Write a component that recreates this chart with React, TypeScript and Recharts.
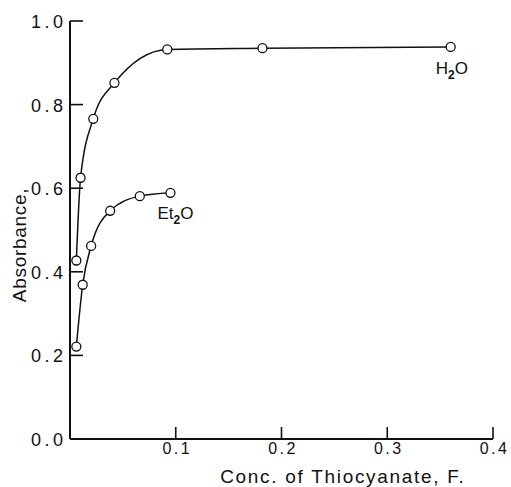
import React from 'react';
import { LineChart, Line, XAxis, YAxis, ReferenceDot } from 'recharts';

// Conc. of thiocyanate (F) vs absorbance
const h2oConc = [0.006, 0.01, 0.022, 0.042, 0.092, 0.182, 0.36];
const h2oAbs = [0.427, 0.625, 0.766, 0.852, 0.932, 0.935, 0.938];
const et2oConc = [0.006, 0.012, 0.02, 0.038, 0.066, 0.095];
const et2oAbs = [0.221, 0.369, 0.462, 0.546, 0.581, 0.589];
const xTicks = [0.1, 0.2, 0.3, 0.4];
const yTicks = [0, 0.2, 0.4, 0.6, 0.8, 1.0];

const h2oData = h2oConc.map((x, i) => ({ x, y: h2oAbs[i] }));
const et2oData = et2oConc.map((x, i) => ({ x, y: et2oAbs[i] }));

const FONT = '"Liberation Sans", Arial, sans-serif';
const INK = '#111';
const Y_MARGIN = 7;
const X_MARGIN = 4;

function YTick({ x, y, payload }: any) {
  const axisX = x + Y_MARGIN;
  return (
    <g>
      {payload.value > 0 && (
        <line x1={axisX} x2={axisX + 13} y1={y} y2={y} stroke={INK} strokeWidth={1.6} />
      )}
      <text x={x} y={y + 7} dx={3.5} textAnchor="end" fontSize={18} letterSpacing={3.5} fontFamily={FONT} fill={INK}>
        {payload.value.toFixed(1)}
      </text>
    </g>
  );
}

function XTick({ x, y, payload }: any) {
  const axisY = y - X_MARGIN;
  return (
    <g>
      <line x1={x} x2={x} y1={axisY} y2={axisY - 12} stroke={INK} strokeWidth={1.6} />
      <text x={x} y={axisY + 15} dx={1.5} textAnchor="middle" fontSize={16} letterSpacing={2.5} fontFamily={FONT} fill={INK}>
        {payload.value.toFixed(1)}
      </text>
    </g>
  );
}

function Tag({ cx, cy, dx, dy, head }: any) {
  return (
    <text x={cx + dx} y={cy + dy} fontSize={17} fontFamily={FONT} fill={INK}>
      {head}
      <tspan dy={5} fontSize={12} fontWeight="bold">2</tspan>
      <tspan dy={-5}>O</tspan>
    </text>
  );
}

const dotStyle = { r: 4.5, fill: '#fff', stroke: INK, strokeWidth: 1.3 };

export default function App() {
  const hLast = h2oConc.length - 1;
  const eLast = et2oConc.length - 1;
  return (
    <div style={{ position: 'fixed', left: 0, top: 0, background: '#fff' }}>
      <LineChart width={511} height={487} margin={{ top: 21, right: 18, bottom: 0, left: 0 }}>
        <XAxis
          type="number"
          dataKey="x"
          domain={[0, 0.4]}
          ticks={xTicks}
          height={48}
          tickSize={0}
          tickMargin={X_MARGIN}
          tickLine={false}
          tick={<XTick />}
          axisLine={{ stroke: INK, strokeWidth: 2 }}
          label={{
            content: ({ viewBox }: any) => (
              <text
                x={viewBox.x + viewBox.width * 0.645}
                y={viewBox.y + 44}
                textAnchor="middle"
                fontSize={19}
                letterSpacing={1.7}
                fontFamily={FONT}
                fill={INK}
              >
                Conc. of Thiocyanate, F.
              </text>
            ),
          }}
        />
        <YAxis
          type="number"
          dataKey="y"
          domain={[0, 1]}
          ticks={yTicks}
          width={70}
          tickSize={0}
          tickMargin={Y_MARGIN}
          tickLine={false}
          tick={<YTick />}
          axisLine={{ stroke: INK, strokeWidth: 2 }}
          label={{
            content: () => (
              <text
                x={26}
                y={245}
                textAnchor="middle"
                transform="rotate(-90, 26, 245)"
                fontSize={19}
                letterSpacing={0.7}
                fontFamily={FONT}
                fill={INK}
              >
                Absorbance,
              </text>
            ),
          }}
        />
        <Line
          data={h2oData}
          dataKey="y"
          type="monotone"
          stroke={INK}
          strokeWidth={1.5}
          dot={dotStyle}
          activeDot={false}
          isAnimationActive={false}
        />
        <Line
          data={et2oData}
          dataKey="y"
          type="monotone"
          stroke={INK}
          strokeWidth={1.5}
          dot={dotStyle}
          activeDot={false}
          isAnimationActive={false}
        />
        <ReferenceDot
          x={h2oConc[hLast]}
          y={h2oAbs[hLast]}
          r={0}
          shape={(p: any) => <Tag cx={p.cx} cy={p.cy} dx={-15} dy={27} head="H" />}
        />
        <ReferenceDot
          x={et2oConc[eLast]}
          y={et2oAbs[eLast]}
          r={0}
          shape={(p: any) => <Tag cx={p.cx} cy={p.cy} dx={-13} dy={26} head="Et" />}
        />
      </LineChart>
    </div>
  );
}
